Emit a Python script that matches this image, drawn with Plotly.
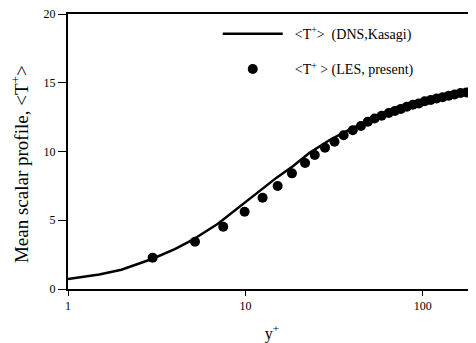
import plotly.graph_objects as go

# DNS (Kasagi) mean scalar profile
dns_y = [1, 1.5, 2, 3, 4, 5, 7, 10, 13, 15, 18.6, 23, 30, 40, 50, 70, 100, 140, 180]
dns_t = [0.72, 1.05, 1.4, 2.2, 2.9, 3.55, 4.75, 6.35, 7.5, 8.1, 8.95, 9.9, 10.85, 11.7, 12.25, 12.9, 13.4, 13.95, 14.35]

# LES (present) mean scalar profile
les_y = [3.0, 5.2, 7.5, 9.9, 12.5, 15.2, 18.3, 21.7, 24.6, 28.1, 31.8, 35.8, 40.3, 44.8, 49.0,
         53.5, 58.6, 64.3, 69.6, 75.3, 81.3, 87.9, 95.0, 102.6, 110.9, 119.8, 129.5, 139.9,
         151.1, 163.3, 176.4]
les_t = [2.28, 3.44, 4.53, 5.62, 6.64, 7.49, 8.41, 9.16, 9.75, 10.28, 10.71, 11.18, 11.54, 11.85, 12.17,
         12.4, 12.6, 12.8, 12.95, 13.1, 13.25, 13.4, 13.5, 13.65, 13.75, 13.85, 13.95, 14.05,
         14.15, 14.25, 14.3]

x_ticks = [1, 10, 100]
x_tick_labels = ["1", "10", "100"]
y_ticks = [0, 5, 10, 15, 20]

serif = "Liberation Serif, Times New Roman, serif"
pad = "\u00a0\u00a0"

fig = go.Figure()
fig.add_trace(go.Scatter(
    x=dns_y, y=dns_t, mode="lines", line=dict(color="black", width=2.5),
    name=pad + "&lt;T<sup>+</sup>&gt;  (DNS,Kasagi)", legendgroup="a"))
fig.add_trace(go.Scatter(
    x=les_y, y=les_t, mode="markers", marker=dict(color="black", size=10),
    name=pad + "&lt;T<sup>+</sup> &gt; (LES, present)", legendgroup="b"))

# page body has an 8px default margin, so the figure is sized 8px smaller
fig.update_layout(
    width=468, height=335,
    margin=dict(l=60, r=0, t=6, b=54),
    paper_bgcolor="white", plot_bgcolor="white",
    font=dict(family=serif, color="black", size=12),
    showlegend=True,
    legend=dict(x=0.367, y=0.985, xanchor="left", yanchor="top",
                bgcolor="rgba(0,0,0,0)", font=dict(size=14, family=serif),
                traceorder="grouped", tracegroupgap=14, itemwidth=60),
    xaxis=dict(type="log", range=[0, 2.3], tickvals=x_ticks, ticktext=x_tick_labels,
               showline=True, linecolor="black", linewidth=2, mirror=True,
               ticks="outside", ticklen=5, tickcolor="black", showgrid=False, zeroline=False,
               automargin=False, ticklabeloverflow="allow",
               tickfont=dict(size=12, family=serif),
               title=dict(text="y<sup>+</sup>", font=dict(size=16, family=serif), standoff=23)),
    yaxis=dict(range=[0, 20], tickvals=y_ticks,
               showline=True, linecolor="black", linewidth=2,
               ticks="outside", ticklen=8, tickcolor="black", showgrid=False, zeroline=False,
               automargin=False, ticklabeloverflow="allow",
               tickfont=dict(size=12, family=serif)),
    annotations=[dict(text="Mean scalar profile, &lt;T<sup>+</sup>&gt;", textangle=-90,
                      xref="paper", yref="paper", x=-0.1176, y=0.4545,
                      xanchor="center", yanchor="middle", showarrow=False,
                      font=dict(size=19, family=serif, color="black"))],
)

fig.write_html("out.html")
